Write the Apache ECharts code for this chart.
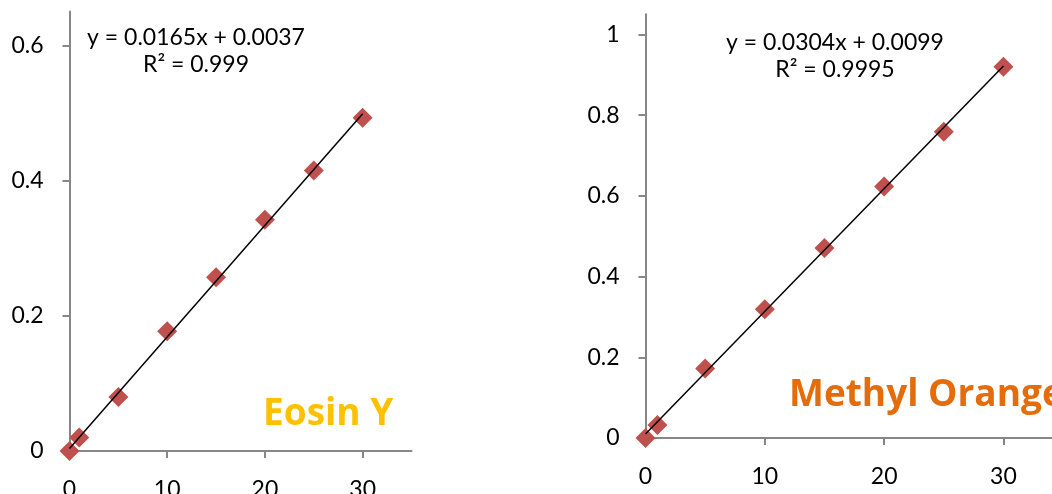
<!DOCTYPE html>
<html>
<head>
<meta charset="utf-8">
<script src="https://cdn.jsdelivr.net/npm/echarts@6/dist/echarts.min.js"></script>
<style>
html,body{margin:0;padding:0;background:#fff;}
#c{width:1052px;height:494px;}
</style>
</head>
<body>
<div id="c"></div>
<script>
// ---- data ----
const concX = [0, 1, 5, 10, 15, 20, 25, 30];
const eosinY = [0, 0.020, 0.080, 0.177, 0.257, 0.342, 0.415, 0.493];
const methylY = [0, 0.032, 0.172, 0.319, 0.471, 0.623, 0.759, 0.920];
const eosinTrendX = [0, 30];
const eosinTrendY = [0.0037, 0.4987];
const methylTrendX = [0, 30];
const methylTrendY = [0.0099, 0.9219];
const xTicks = [0, 10, 20, 30];
const eosinYTicks = [0, 0.2, 0.4, 0.6];
const methylYTicks = [0, 0.2, 0.4, 0.6, 0.8, 1];
const eosinEq = ['y = 0.0165x + 0.0037', 'R² = 0.999'];
const methylEq = ['y = 0.0304x + 0.0099', 'R² = 0.9995'];
const eosinName = 'Eosin Y';
const methylName = 'Methyl Orange';

const FONT = 'Lato, "Open Sans", sans-serif';
const TFONT = '"Open Sans", Lato, sans-serif';
const AX = '#868686';
const pairs = (xs, ys) => xs.map((x, i) => [x, ys[i]]);

function xAxis(gi, ticks) {
  return {
    type: 'value', gridIndex: gi, min: 0, max: 35,
    axisLine: {show: true, lineStyle: {color: AX, width: 2}},
    axisTick: {show: true, length: 7, lineStyle: {color: AX, width: 2}, customValues: ticks},
    axisLabel: {margin: 27, color: '#000', fontFamily: FONT, fontSize: 23, customValues: ticks},
    splitLine: {show: false}
  };
}
function yAxis(gi, max, ticks) {
  return {
    type: 'value', gridIndex: gi, min: 0, max: max,
    axisLine: {show: true, onZero: false, lineStyle: {color: AX, width: 2}},
    axisTick: {show: true, length: 7, lineStyle: {color: AX, width: 2}, customValues: ticks},
    axisLabel: {margin: 26, color: '#000', fontFamily: FONT, fontSize: 23, customValues: ticks,
      formatter: v => String(+v.toFixed(2))},
    splitLine: {show: false}
  };
}
function scatter(i, data) {
  return {type: 'scatter', xAxisIndex: i, yAxisIndex: i, data: data, symbol: 'diamond',
    symbolSize: 20, itemStyle: {color: '#C0504D', opacity: 1}, z: 2, silent: true};
}
function trend(i, data) {
  return {type: 'line', xAxisIndex: i, yAxisIndex: i, data: data, showSymbol: false, symbol: 'none',
    lineStyle: {color: '#000', width: 1.5}, z: 3, silent: true, animation: false};
}
function txt(x, y, s, size, color, weight, align, font) {
  return {type: 'text', x: x, y: y, z: 10,
    style: {text: s, fontFamily: font || FONT, fontSize: size, fill: color, fontWeight: weight || 'normal',
      align: align || 'center', verticalAlign: 'middle'}};
}

const chart = echarts.init(document.getElementById('c'), null, {renderer: 'canvas'});
chart.setOption({
  animation: false,
  backgroundColor: '#fff',
  grid: [
    {left: 69.5, top: 11.5, width: 342, height: 439.5, containLabel: false, outerBoundsMode: 'none'},
    {left: 645.5, top: 14.3, width: 417.6, height: 423.7, containLabel: false, outerBoundsMode: 'none'}
  ],
  xAxis: [xAxis(0, xTicks), xAxis(1, xTicks)],
  yAxis: [yAxis(0, 0.65, eosinYTicks), yAxis(1, 1.05, methylYTicks)],
  series: [
    scatter(0, pairs(concX, eosinY)),
    trend(0, pairs(eosinTrendX, eosinTrendY)),
    scatter(1, pairs(concX, methylY)),
    trend(1, pairs(methylTrendX, methylTrendY))
  ],
  graphic: [
    txt(196, 38, eosinEq[0], 23, '#000'),
    txt(196, 64.5, eosinEq[1], 23, '#000'),
    txt(835, 43, methylEq[0], 23, '#000'),
    txt(835, 69.5, methylEq[1], 23, '#000'),
    txt(263, 414, eosinName, 37, '#FFC000', 'bold', 'left', TFONT),
    txt(789, 395.5, methylName, 37, '#E46C0A', 'bold', 'left', TFONT)
  ]
});
</script>
</body>
</html>
